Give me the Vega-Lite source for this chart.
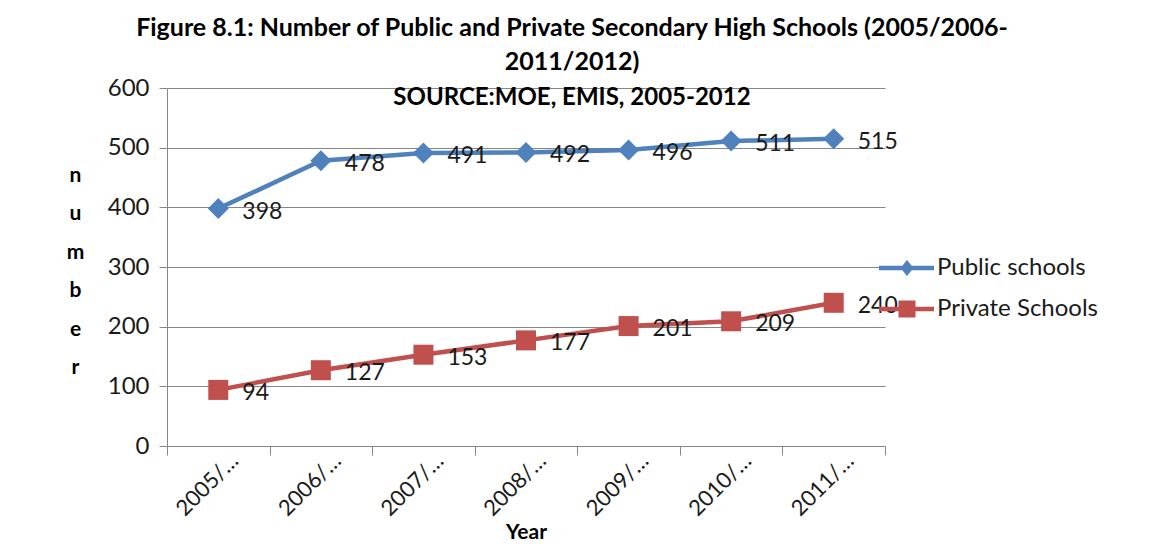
{
  "$schema": "https://vega.github.io/schema/vega-lite/v6.json",
  "autosize": "none",
  "width": 718,
  "height": 358,
  "padding": {"left": 167, "top": 88, "right": 265, "bottom": 98},
  "background": "white",
  "config": {
    "font": "Lato",
    "view": {"stroke": null}
  },
  "title": {
    "text": ["Figure 8.1: Number of Public and Private Secondary High Schools (2005/2006-", "2011/2012)"],
    "subtitle": "SOURCE:MOE, EMIS, 2005-2012",
    "anchor": "middle",
    "frame": "group",
    "dx": 46,
    "offset": -34,
    "font": "Lato",
    "fontSize": 25,
    "fontWeight": "bold",
    "color": "#000000",
    "lineHeight": 34,
    "subtitleFont": "Lato",
    "subtitleFontSize": 24,
    "subtitleFontWeight": "bold",
    "subtitleColor": "#000000",
    "subtitlePadding": 11
  },
  "data": {
    "values": [
      {"year": "2005/2006", "series": "Public schools", "shape": "diamond", "schools": 398},
      {"year": "2006/2007", "series": "Public schools", "shape": "diamond", "schools": 478},
      {"year": "2007/2008", "series": "Public schools", "shape": "diamond", "schools": 491},
      {"year": "2008/2009", "series": "Public schools", "shape": "diamond", "schools": 492},
      {"year": "2009/2010", "series": "Public schools", "shape": "diamond", "schools": 496},
      {"year": "2010/2011", "series": "Public schools", "shape": "diamond", "schools": 511},
      {"year": "2011/2012", "series": "Public schools", "shape": "diamond", "schools": 515},
      {"year": "2005/2006", "series": "Private Schools", "shape": "square", "schools": 94},
      {"year": "2006/2007", "series": "Private Schools", "shape": "square", "schools": 127},
      {"year": "2007/2008", "series": "Private Schools", "shape": "square", "schools": 153},
      {"year": "2008/2009", "series": "Private Schools", "shape": "square", "schools": 177},
      {"year": "2009/2010", "series": "Private Schools", "shape": "square", "schools": 201},
      {"year": "2010/2011", "series": "Private Schools", "shape": "square", "schools": 209},
      {"year": "2011/2012", "series": "Private Schools", "shape": "square", "schools": 240}
    ]
  },
  "encoding": {
    "x": {
      "field": "year",
      "type": "nominal",
      "sort": null,
      "scale": {"type": "band", "paddingInner": 0, "paddingOuter": 0},
      "axis": {
        "title": "Year",
        "titleFont": "Lato",
        "titleFontSize": 21,
        "titleFontWeight": "bold",
        "titleColor": "#000000",
        "titleBaseline": "alphabetic",
        "titleY": 92,
        "labelFont": "Lato",
        "labelFontSize": 22,
        "labelColor": "#1a1a1a",
        "labelAngle": -45,
        "labelAlign": "right",
        "labelBaseline": "middle",
        "labelOffset": 16,
        "labelPadding": 2,
        "labelLimit": 84,
        "tickBand": "extent",
        "tickSize": 9,
        "tickColor": "#868686",
        "domainColor": "#868686",
        "grid": false
      }
    },
    "y": {
      "field": "schools",
      "type": "quantitative",
      "scale": {"domain": [0, 600], "nice": false},
      "axis": {
        "title": ["n", "u", "m", "b", "e", "r"],
        "titleAngle": 0,
        "titleAlign": "center",
        "titleBaseline": "middle",
        "titleLineHeight": 38.5,
        "titleX": -92,
        "titleY": 87,
        "titleFont": "Lato",
        "titleFontSize": 21,
        "titleFontWeight": "bold",
        "titleColor": "#000000",
        "values": [0, 100, 200, 300, 400, 500, 600],
        "labelFont": "Lato",
        "labelFontSize": 24,
        "labelColor": "#1a1a1a",
        "labelPadding": 10,
        "tickSize": 8,
        "tickColor": "#868686",
        "domainColor": "#868686",
        "gridColor": "#868686",
        "gridWidth": 1
      }
    },
    "color": {
      "field": "series",
      "type": "nominal",
      "scale": {"domain": ["Public schools", "Private Schools"], "range": ["#4F81BD", "#C0504D"]},
      "legend": {
        "title": null,
        "orient": "none",
        "legendX": 710,
        "legendY": 168,
        "padding": 0,
        "rowPadding": 17,
        "symbolSize": 400,
        "symbolStrokeWidth": 0,
        "labelOffset": 36,
        "labelLimit": 300,
        "labelFont": "Lato",
        "labelFontSize": 24,
        "labelColor": "#1a1a1a",
        "encode": {
          "symbols": {
            "update": {
              "fill": {"scale": "color", "field": "value"},
              "stroke": {"value": "transparent"},
              "opacity": {"value": 1},
              "shape": {"signal": "datum.value === 'Public schools' ? 'M-1,-0.22L4.5,-0.22L4.5,0.22L-1,0.22Z M1.8,-0.8L2.45,0L1.8,0.8L1.15,0Z' : 'M-1,-0.22L4.5,-0.22L4.5,0.22L-1,0.22Z M0.95,-0.85L2.65,-0.85L2.65,0.85L0.95,0.85Z'"}
            }
          }
        }
      }
    }
  },
  "layer": [
    {
      "mark": {"type": "line", "strokeWidth": 4.5}
    },
    {
      "mark": {"type": "point", "filled": true, "opacity": 1, "strokeWidth": 0},
      "encoding": {
        "shape": {
          "field": "shape",
          "type": "nominal",
          "scale": {"domain": ["diamond", "square"], "range": ["diamond", "square"]},
          "legend": null
        },
        "size": {
          "field": "shape",
          "type": "nominal",
          "scale": {"domain": ["diamond", "square"], "range": [440, 400]},
          "legend": null
        }
      }
    },
    {
      "mark": {"type": "text", "align": "left", "baseline": "middle", "dx": 24, "dy": 3, "font": "Lato", "fontSize": 23, "color": "#1a1a1a"},
      "encoding": {
        "text": {"field": "schools", "type": "quantitative"},
        "color": {"value": "#1a1a1a"}
      }
    }
  ]
}
